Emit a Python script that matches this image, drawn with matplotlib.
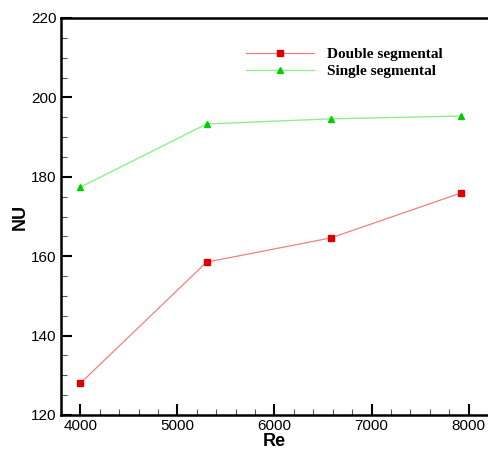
import numpy as np
import matplotlib
matplotlib.use("Agg")
import matplotlib.pyplot as plt
from matplotlib.ticker import MultipleLocator

# values
re_values = [4000, 5300, 6580, 7920]
nu_double = [128.0, 158.5, 164.6, 175.9]
nu_single = [177.4, 193.3, 194.6, 195.3]
series_names = ["Double segmental", "Single segmental"]

plt.rcParams['font.family'] = ['Liberation Sans', 'DejaVu Sans']

fig = plt.figure(figsize=(4.89, 4.5), dpi=100)
ax = fig.add_axes([61/489, 35/450, 427/489, 397/450])

ax.plot(re_values, nu_double, color='#f08080', lw=0.9, marker='s', ms=4.5,
        mfc='#dd0000', mec='#dd0000', label=series_names[0])
ax.plot(re_values, nu_single, color='#90ee90', lw=1.0, marker='^', ms=5,
        mfc='#00cc00', mec='#00cc00', label=series_names[1])

ax.set_xlim(3800, 8200)
ax.set_ylim(120, 220)
ax.xaxis.set_major_locator(MultipleLocator(1000))
ax.xaxis.set_minor_locator(MultipleLocator(200))
ax.yaxis.set_major_locator(MultipleLocator(20))
ax.yaxis.set_minor_locator(MultipleLocator(5))
ax.tick_params(which='major', direction='in', length=8, width=1.5, labelsize=11, pad=3)
ax.tick_params(which='minor', direction='in', length=4, width=0.8, color='#555555')
ax.spines['right'].set_visible(False)
for s in ['left', 'bottom', 'top']:
    ax.spines[s].set_linewidth(1.8)

ax.set_xlabel("Re", fontsize=13, fontweight='bold', labelpad=0)
ax.set_ylabel("NU", fontsize=13, fontweight='bold', labelpad=2)

leg = ax.legend(loc='upper left', bbox_to_anchor=(0.40, 0.96), frameon=False,
                prop={'family': 'Liberation Serif', 'weight': 'bold', 'size': 11},
                handlelength=4.5, handletextpad=0.8, labelspacing=0.2)

fig.savefig("out.png", dpi=100)
